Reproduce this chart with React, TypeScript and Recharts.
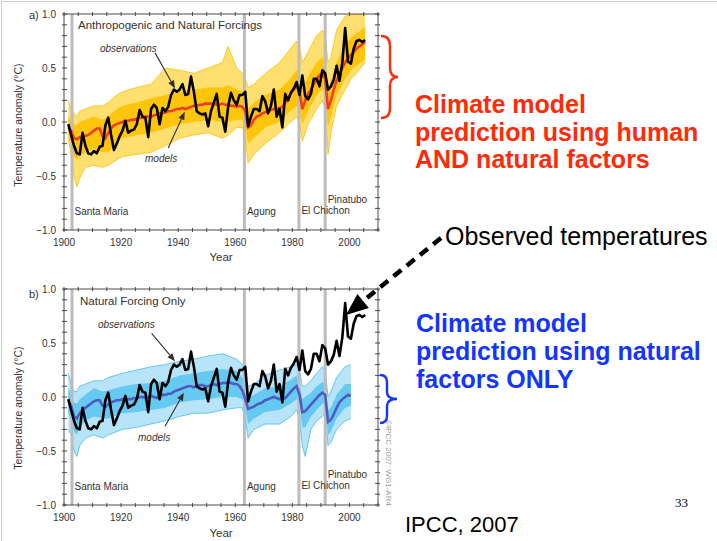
import React from "react";
import { ComposedChart, Area, Line, XAxis, YAxis, ReferenceLine } from "recharts";

// Global mean temperature anomaly (°C, relative to 1901–1950), annual means from 1901
const OBS_START = 1901;
const observed = [
  -0.02, -0.12, -0.22, -0.29, -0.30, -0.10, -0.22, -0.29, -0.30, -0.27,
  -0.29, -0.23, -0.22, -0.03, 0.04, -0.12, -0.26, -0.20, -0.13, -0.08,
  0.01, -0.10, -0.08, -0.07, -0.02, 0.11, 0.05, 0.04, -0.14, 0.12,
  0.16, 0.13, -0.02, 0.13, 0.10, 0.14, 0.25, 0.30, 0.28, 0.30,
  0.35, 0.25, 0.26, 0.42, 0.28, 0.10, 0.08, 0.07, 0.08, -0.04,
  0.10, 0.18, 0.26, 0.05, 0.04, -0.09, 0.14, 0.27, 0.20, 0.16,
  0.25, 0.25, 0.28, -0.04, 0.05, 0.12, 0.12, 0.10, 0.24, 0.19,
  0.08, 0.15, 0.30, 0.05, 0.12, -0.05, 0.26, 0.20, 0.27, 0.31,
  0.37, 0.25, 0.43, 0.24, 0.21, 0.26, 0.40, 0.40, 0.33, 0.48,
  0.45, 0.30, 0.33, 0.39, 0.52, 0.38, 0.55, 0.87, 0.56, 0.54,
  0.68, 0.75, 0.76, 0.74, 0.76,
];

// Multi-model mean, anthropogenic + natural forcings (1901–2005)
const ALL_START = 1901;
const allForcingMean = [
  -0.05, -0.08, -0.15, -0.16, -0.14, -0.13, -0.13, -0.12, -0.10, -0.08,
  -0.06, -0.06, -0.13, -0.15, -0.10, -0.06, -0.03, -0.02, -0.01, 0.00,
  0.01, 0.01, 0.02, 0.02, 0.03, 0.04, 0.04, 0.05, 0.05, 0.05,
  0.06, 0.07, 0.08, 0.08, 0.09, 0.10, 0.10, 0.11, 0.12, 0.12,
  0.13, 0.12, 0.13, 0.14, 0.15, 0.15, 0.16, 0.16, 0.17, 0.17,
  0.17, 0.17, 0.16, 0.16, 0.17, 0.16, 0.16, 0.15, 0.15, 0.14,
  0.15, 0.14, 0.10, -0.05, -0.03, 0.02, 0.05, 0.06, 0.08, 0.09,
  0.10, 0.11, 0.12, 0.12, 0.13, 0.14, 0.18, 0.22, 0.27, 0.30,
  0.33, 0.28, 0.12, 0.20, 0.26, 0.30, 0.35, 0.40, 0.43, 0.45,
  0.40, 0.12, 0.20, 0.30, 0.38, 0.45, 0.50, 0.55, 0.59, 0.62,
  0.65, 0.68, 0.70, 0.72, 0.74,
];

// Multi-model mean, natural forcings only (1901–2000)
const NAT_START = 1901;
const naturalMean = [
  -0.04, -0.08, -0.18, -0.20, -0.15, -0.12, -0.10, -0.08, -0.06, -0.04,
  -0.03, -0.03, -0.08, -0.09, -0.07, -0.05, -0.04, -0.03, -0.03, -0.02,
  -0.03, -0.02, -0.02, -0.01, -0.01, 0.00, 0.00, -0.01, 0.00, 0.01,
  0.00, -0.01, 0.01, 0.02, 0.02, 0.03, 0.03, 0.05, 0.06, 0.07,
  0.08, 0.09, 0.10, 0.10, 0.09, 0.10, 0.11, 0.11, 0.10, 0.10,
  0.11, 0.12, 0.11, 0.12, 0.13, 0.13, 0.14, 0.13, 0.12, 0.12,
  0.10, 0.06, -0.02, -0.11, -0.10, -0.09, -0.07, -0.06, -0.05, -0.03,
  -0.02, -0.01, 0.00, -0.01, -0.02, -0.02, -0.01, 0.02, 0.05, 0.08,
  0.10, 0.02, -0.14, -0.13, -0.10, -0.07, -0.04, -0.01, 0.02, 0.04,
  0.02, -0.23, -0.21, -0.16, -0.10, -0.05, -0.02, 0.00, 0.02, 0.01,
];

// Ensemble spread, all forcings: full range and dense core
const allEnvYears = [
  1901, 1902, 1903, 1904, 1905, 1907, 1910, 1913, 1915, 1918, 1920, 1925, 1930, 1935,
  1940, 1945, 1950, 1955, 1957, 1960, 1962, 1963, 1964, 1966, 1970, 1975, 1978, 1981,
  1982, 1983, 1985, 1988, 1990, 1991, 1992, 1993, 1995, 1998, 2000, 2002, 2005,
];
const allOuterLow = [
  -0.15, -0.30, -0.50, -0.60, -0.52, -0.42, -0.40, -0.42, -0.40, -0.35, -0.32, -0.30, -0.28, -0.22,
  -0.15, -0.12, -0.10, -0.15, -0.12, -0.05, -0.05, -0.15, -0.38, -0.30, -0.20, -0.10, -0.02, 0.05,
  0.00, -0.18, -0.02, 0.12, 0.20, 0.12, -0.30, -0.10, 0.15, 0.30, 0.40, 0.45, 0.55,
];
const allOuterHigh = [
  0.20, 0.12, 0.08, 0.05, 0.10, 0.12, 0.15, 0.15, 0.18, 0.25, 0.28, 0.32, 0.35, 0.50,
  0.48, 0.45, 0.50, 0.55, 0.70, 0.50, 0.45, 0.40, 0.32, 0.35, 0.45, 0.55, 0.65, 0.75,
  0.70, 0.55, 0.65, 0.80, 0.85, 0.80, 0.55, 0.60, 0.85, 0.98, 1.00, 1.00, 1.00,
];
const allInnerLow = [
  -0.12, -0.22, -0.32, -0.35, -0.32, -0.28, -0.25, -0.28, -0.28, -0.20, -0.15, -0.12, -0.10, -0.06,
  -0.02, 0.00, 0.02, 0.00, 0.00, 0.02, 0.02, -0.05, -0.20, -0.15, -0.05, 0.00, 0.08, 0.15,
  0.12, -0.02, 0.10, 0.25, 0.30, 0.25, -0.05, 0.05, 0.25, 0.40, 0.48, 0.52, 0.58,
];
const allInnerHigh = [
  0.05, 0.00, -0.02, -0.03, 0.00, 0.02, 0.05, 0.02, 0.05, 0.12, 0.15, 0.18, 0.22, 0.25,
  0.28, 0.30, 0.32, 0.32, 0.34, 0.30, 0.28, 0.25, 0.12, 0.18, 0.25, 0.30, 0.38, 0.48,
  0.45, 0.30, 0.42, 0.55, 0.60, 0.55, 0.30, 0.38, 0.55, 0.72, 0.78, 0.82, 0.88,
];

// Ensemble spread, natural forcings only
const natEnvYears = [
  1901, 1902, 1903, 1904, 1905, 1907, 1910, 1913, 1915, 1920, 1925, 1930, 1935, 1940,
  1945, 1950, 1955, 1960, 1962, 1963, 1964, 1966, 1970, 1975, 1979, 1981, 1982, 1983,
  1984, 1986, 1988, 1990, 1991, 1992, 1993, 1995, 1998, 2000,
];
const natOuterLow = [
  -0.30, -0.35, -0.50, -0.55, -0.45, -0.38, -0.35, -0.38, -0.35, -0.30, -0.28, -0.25, -0.22, -0.18,
  -0.15, -0.15, -0.12, -0.10, -0.10, -0.20, -0.38, -0.30, -0.25, -0.25, -0.18, -0.12, -0.20, -0.45,
  -0.55, -0.30, -0.22, -0.18, -0.15, -0.45, -0.42, -0.30, -0.22, -0.20,
];
const natOuterHigh = [
  0.22, 0.12, 0.05, 0.05, 0.10, 0.12, 0.15, 0.15, 0.18, 0.22, 0.25, 0.28, 0.30, 0.33,
  0.35, 0.38, 0.40, 0.35, 0.30, 0.20, 0.10, 0.12, 0.20, 0.25, 0.28, 0.30, 0.25, 0.10,
  0.10, 0.15, 0.22, 0.28, 0.25, 0.00, 0.05, 0.18, 0.28, 0.30,
];
const natInnerLow = [
  -0.15, -0.22, -0.32, -0.35, -0.28, -0.22, -0.18, -0.20, -0.20, -0.15, -0.14, -0.12, -0.10, -0.05,
  -0.03, -0.02, 0.00, 0.00, -0.02, -0.10, -0.25, -0.20, -0.14, -0.12, -0.06, -0.02, -0.06, -0.28,
  -0.28, -0.18, -0.12, -0.06, -0.06, -0.35, -0.32, -0.20, -0.10, -0.08,
];
const natInnerHigh = [
  0.08, 0.02, -0.05, -0.06, -0.02, 0.02, 0.08, 0.05, 0.06, 0.10, 0.12, 0.13, 0.15, 0.20,
  0.22, 0.24, 0.26, 0.24, 0.18, 0.08, -0.02, 0.02, 0.08, 0.10, 0.16, 0.20, 0.12, -0.02,
  0.00, 0.04, 0.10, 0.14, 0.12, -0.12, -0.10, 0.02, 0.12, 0.12,
];

// Major volcanic eruptions
const volcanoNames = ["Santa Maria", "Agung", "El Chichon", "Pinatubo"];
const volcanoYears = [1902.8, 1963.2, 1982.3, 1991.5];
const volcanoLift = [15, 15, 16, 27];

const xTicks = [
  1900, 1905, 1910, 1915, 1920, 1925, 1930, 1935, 1940, 1945, 1950, 1955,
  1960, 1965, 1970, 1975, 1980, 1985, 1990, 1995, 2000, 2005, 2010,
];
const yTicks = [
  -1.0, -0.9, -0.8, -0.7, -0.6, -0.5, -0.4, -0.3, -0.2, -0.1, 0.0,
  0.1, 0.2, 0.3, 0.4, 0.5, 0.6, 0.7, 0.8, 0.9, 1.0,
];
const yLabelled = [-1.0, -0.5, 0.0, 0.5, 1.0];
const Y_DOMAIN = [-1, 1];

const FRAME = "#4a4a4a";
const INK = "#333333";
const RED_TEXT = "#ff2a08";
const BLUE_TEXT = "#1434ff";

const annual = (start: number, values: number[]) =>
  values.map((v, i) => ({ x: start + i + 0.5, v }));

const envelope = (years: number[], oLo: number[], oHi: number[], iLo: number[], iHi: number[]) =>
  years.map((yr, i) => ({
    x: yr + 0.5,
    outer: [oLo[i], oHi[i]],
    inner: [iLo[i], iHi[i]],
  }));

const obsData = annual(OBS_START, observed);
const allMeanData = annual(ALL_START, allForcingMean);
const natMeanData = annual(NAT_START, naturalMean);
const allEnv = envelope(allEnvYears, allOuterLow, allOuterHigh, allInnerLow, allInnerHigh);
const natEnv = envelope(natEnvYears, natOuterLow, natOuterHigh, natInnerLow, natInnerHigh);
// each eruption is a full-height vertical series, so it sits below the curves
const volcanoBars = volcanoYears.map((yr) => Y_DOMAIN.map((v) => ({ x: yr, v })));

const fmtY = (v: number) => (v < 0 ? "\u2212" + Math.abs(v).toFixed(1) : v.toFixed(1));

// inward tick marks on all four sides of the frame
const BottomTick = ({ x, y, payload }: any) => {
  const v = payload.value;
  return (
    <g>
      <line x1={x} y1={y} x2={x} y2={y - 4} stroke={FRAME} />
      {v % 20 === 0 && v <= 2000 && (
        <text x={x} y={y + 14} textAnchor="middle" fontSize={10} fill={INK}>
          {v}
        </text>
      )}
    </g>
  );
};
const TopTick = ({ x, y }: any) => <line x1={x} y1={y} x2={x} y2={y + 4} stroke={FRAME} />;
const LeftTick = ({ x, y, payload }: any) => {
  const v = payload.value;
  const show = yLabelled.some((t) => Math.abs(t - v) < 1e-6);
  return (
    <g>
      <line x1={x} y1={y} x2={x + 5} y2={y} stroke={FRAME} />
      {show && (
        <text x={x - 6} y={y + 3.5} textAnchor="end" fontSize={10} fill={INK}>
          {fmtY(v)}
        </text>
      )}
    </g>
  );
};
const RightTick = ({ x, y }: any) => <line x1={x} y1={y} x2={x - 5} y2={y} stroke={FRAME} />;

// thin pointer with a filled head, used for the "observations"/"models" call-outs
const Pointer = (props: any) => {
  const { x1, y1, x2, y2 } = props;
  const a = Math.atan2(y2 - y1, x2 - x1);
  const len = 8;
  const half = 3.2;
  const bx = x2 - len * Math.cos(a);
  const by = y2 - len * Math.sin(a);
  const px = half * Math.sin(a);
  const py = -half * Math.cos(a);
  return (
    <g>
      <line x1={x1} y1={y1} x2={bx} y2={by} stroke="#303030" strokeWidth={1.1} />
      <polygon points={`${x2},${y2} ${bx + px},${by + py} ${bx - px},${by - py}`} fill="#303030" />
    </g>
  );
};

const volcanoLabel = (name: string, lift: number) => (p: any) => {
  const vb = p.viewBox || {};
  return (
    <text x={vb.x + 2.5} y={vb.y + vb.height - lift} fontSize={10} fill={INK}>
      {name}
    </text>
  );
};

type PanelProps = {
  top: number;
  env: any[];
  outerFill: string;
  outerStroke: string;
  innerFill: string;
  meanData: { x: number; v: number }[];
  meanColor: string;
  obsPointer: { x: number; y: number }[];
  modelPointer: { x: number; y: number }[];
};

function Panel({ top, env, outerFill, outerStroke, innerFill, meanData, meanColor, obsPointer, modelPointer }: PanelProps) {
  return (
    <div style={{ position: "absolute", left: 0, top }}>
      <ComposedChart width={400} height={270} margin={{ top: 13, right: 21, bottom: 10, left: 24 }}>
        <XAxis
          type="number"
          dataKey="x"
          domain={[1900, 2010]}
          ticks={xTicks}
          interval={0}
          tickSize={0}
          tickLine={false}
          tick={BottomTick}
          height={30}
          axisLine={{ stroke: FRAME }}
          allowDataOverflow
        />
        <XAxis
          xAxisId="top"
          orientation="top"
          type="number"
          dataKey="x"
          domain={[1900, 2010]}
          ticks={xTicks}
          interval={0}
          tickSize={0}
          tickLine={false}
          tick={TopTick}
          height={1}
          axisLine={{ stroke: FRAME }}
          allowDataOverflow
        />
        <YAxis
          type="number"
          domain={Y_DOMAIN}
          ticks={yTicks}
          interval={0}
          tickSize={0}
          tickLine={false}
          tick={LeftTick}
          width={40}
          axisLine={{ stroke: FRAME }}
          allowDataOverflow
        />
        <YAxis
          yAxisId="right"
          orientation="right"
          type="number"
          domain={Y_DOMAIN}
          ticks={yTicks}
          interval={0}
          tickSize={0}
          tickLine={false}
          tick={RightTick}
          width={1}
          axisLine={{ stroke: FRAME }}
          allowDataOverflow
        />
        <Area
          data={env}
          dataKey="outer"
          type="linear"
          fill={outerFill}
          fillOpacity={0.7}
          stroke={outerStroke}
          strokeWidth={0.8}
          dot={false}
          activeDot={false}
          isAnimationActive={false}
        />
        <Area
          data={env}
          dataKey="inner"
          type="linear"
          fill={innerFill}
          fillOpacity={0.9}
          stroke="none"
          dot={false}
          activeDot={false}
          isAnimationActive={false}
        />
        {volcanoBars.map((bar, i) => (
          <Line
            key={volcanoNames[i]}
            data={bar}
            dataKey="v"
            type="linear"
            stroke="#bcbcbc"
            strokeWidth={3}
            dot={false}
            activeDot={false}
            isAnimationActive={false}
          />
        ))}
        <Line
          data={meanData}
          dataKey="v"
          type="linear"
          stroke={meanColor}
          strokeWidth={2.6}
          dot={false}
          activeDot={false}
          isAnimationActive={false}
        />
        <Line
          data={obsData}
          dataKey="v"
          type="linear"
          stroke="#000000"
          strokeWidth={2.6}
          strokeLinejoin="round"
          dot={false}
          activeDot={false}
          isAnimationActive={false}
        />
        {volcanoYears.map((yr, i) => (
          <ReferenceLine
            key={volcanoNames[i]}
            x={yr}
            stroke="none"
            label={volcanoLabel(volcanoNames[i], volcanoLift[i])}
          />
        ))}
        <ReferenceLine segment={obsPointer} shape={Pointer} />
        <ReferenceLine segment={modelPointer} shape={Pointer} />
      </ComposedChart>
    </div>
  );
}

export default function App() {
  return (
    <div
      style={{
        position: "absolute",
        left: 0,
        top: 0,
        width: 717,
        height: 541,
        background: "#ffffff",
        fontFamily: '"Liberation Sans", Arial, Helvetica, sans-serif',
        overflow: "hidden",
      }}
    >
      <Panel
        top={0}
        env={allEnv}
        outerFill="#ffd233"
        outerStroke="#ffc000"
        innerFill="#ffc200"
        meanData={allMeanData}
        meanColor="#f23c2a"
        obsPointer={[{ x: 1931.9, y: 0.64 }, { x: 1938.9, y: 0.31 }]}
        modelPointer={[{ x: 1936.5, y: -0.24 }, { x: 1942.3, y: 0.095 }]}
      />
      <Panel
        top={275}
        env={natEnv}
        outerFill="#98d8f5"
        outerStroke="#45bdec"
        innerFill="#5cc5ef"
        meanData={natMeanData}
        meanColor="#4c5cbf"
        obsPointer={[{ x: 1930.7, y: 0.59 }, { x: 1938.9, y: 0.33 }]}
        modelPointer={[{ x: 1935.4, y: -0.27 }, { x: 1942.0, y: 0.04 }]}
      />

      <svg width={717} height={541} style={{ position: "absolute", left: 0, top: 0, pointerEvents: "none" }}>
        <path d="M1.5 541 V1.5 H717" stroke="#d0d0d0" fill="none" />

        {/* panel a */}
        <text x={29} y={19} fontSize={11} fill={INK}>a)</text>
        <text x={78} y={29} fontSize={11.5} fill={INK}>Anthropogenic and Natural Forcings</text>
        <text x={100} y={51.5} fontSize={10} fontStyle="italic" fill={INK}>observations</text>
        <text x={145} y={161.5} fontSize={10} fontStyle="italic" fill={INK}>models</text>
        <text transform="translate(22,125) rotate(-90)" textAnchor="middle" fontSize={10.5} fill={INK}>
          Temperature anomaly (°C)
        </text>
        <text x={221} y={261} textAnchor="middle" fontSize={11.5} fill={INK}>Year</text>

        {/* panel b */}
        <text x={29} y={298} fontSize={11} fill={INK}>b)</text>
        <text x={80} y={305} fontSize={11.5} fill={INK}>Natural Forcing Only</text>
        <text x={98} y={328} fontSize={10} fontStyle="italic" fill={INK}>observations</text>
        <text x={138} y={441} fontSize={10} fontStyle="italic" fill={INK}>models</text>
        <text transform="translate(22,408) rotate(-90)" textAnchor="middle" fontSize={10.5} fill={INK}>
          Temperature anomaly (°C)
        </text>
        <text x={221} y={537} textAnchor="middle" fontSize={11.5} fill={INK}>Year</text>
        <text transform="translate(386,420) rotate(90)" fontSize={8} fill="#9a9a9a">©IPCC 2007: WG1-AR4</text>

        {/* slide call-outs */}
        <path
          d="M381 36 Q390 36 390 46 L390 68 Q390 77 398 77 Q390 77 390 86 L390 108 Q390 118 381 118"
          stroke={RED_TEXT}
          strokeWidth={2.4}
          fill="none"
        />
        <text fontSize={25} fontWeight="bold" fill={RED_TEXT}>
          <tspan x={415} y={113}>Climate model</tspan>
          <tspan x={415} y={140.5}>prediction using human</tspan>
          <tspan x={415} y={168}>AND natural factors</tspan>
        </text>

        <line x1={441} y1={238} x2={363} y2={301} stroke="#000" strokeWidth={4.5} strokeDasharray="10 7" />
        <polygon points="346,315 357.4,294.1 368.8,308.1" fill="#000" />
        <text x={445} y={245} fontSize={25} fill="#000">Observed temperatures</text>

        <path
          d="M380 375 Q387 375 387 382 L387 392 Q387 399 397 399 Q387 399 387 406 L387 416 Q387 423 380 423"
          stroke={BLUE_TEXT}
          strokeWidth={2.4}
          fill="none"
        />
        <text fontSize={25} fontWeight="bold" fill={BLUE_TEXT}>
          <tspan x={416} y={332}>Climate model</tspan>
          <tspan x={416} y={360}>prediction using natural</tspan>
          <tspan x={416} y={388}>factors ONLY</tspan>
        </text>

        <text x={675} y={507} fontSize={13} fontFamily='"Liberation Serif", "Times New Roman", serif' fill="#000">33</text>
        <text x={405} y={532} fontSize={22} fill="#000">IPCC, 2007</text>
      </svg>
    </div>
  );
}
